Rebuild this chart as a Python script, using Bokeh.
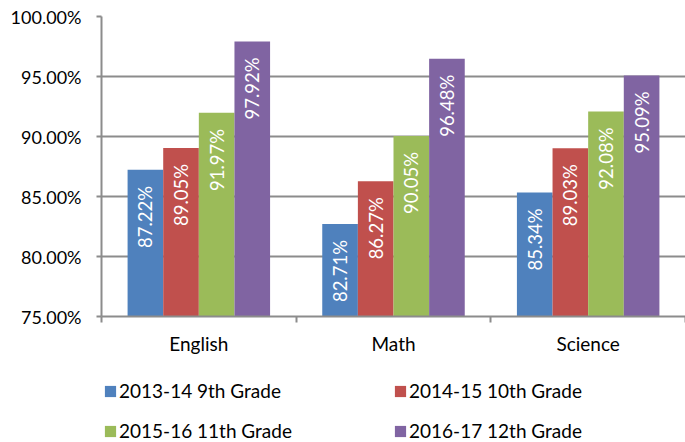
import math
from bokeh.plotting import figure
from bokeh.layouts import column
from bokeh.models import (Range1d, FixedTicker, SingleIntervalTicker, PrintfTickFormatter,
                          Legend, LegendItem, ColumnDataSource)
from bokeh.core.properties import value
from bokeh.embed import file_html
from bokeh.resources import INLINE

subjects = ["English", "Math", "Science"]
series_names = ["2013-14 9th Grade", "2014-15 10th Grade", "2015-16 11th Grade", "2016-17 12th Grade"]
grade9 = [87.22, 82.71, 85.34]
grade10 = [89.05, 86.27, 89.03]
grade11 = [91.97, 90.05, 92.08]
grade12 = [97.92, 96.48, 95.09]
series_values = [grade9, grade10, grade11, grade12]
colors = ["#4F81BD", "#C0504D", "#9BBB59", "#8064A2"]

FONT = "Lato"
GRID = "#8C8C8C"

p = figure(width=685, height=360, output_backend="svg", toolbar_location=None,
           x_range=Range1d(0, len(subjects)), y_range=Range1d(75, 100),
           min_border_left=101, min_border_right=0, min_border_top=16, min_border_bottom=44)
p.outline_line_color = None
p.background_fill_color = "white"
p.border_fill_color = "white"

# Y axis
p.yaxis.ticker = SingleIntervalTicker(interval=5)
p.yaxis.formatter = PrintfTickFormatter(format="%.2f%%")
p.yaxis.axis_line_color = GRID
p.yaxis.axis_line_width = 2
p.yaxis.major_tick_line_color = GRID
p.yaxis.major_tick_line_width = 2
p.yaxis.major_tick_out = 5
p.yaxis.major_tick_in = 0
p.yaxis.minor_tick_line_color = None
p.yaxis.major_label_standoff = 15
p.yaxis.major_label_text_font = FONT
p.yaxis.major_label_text_font_size = "18px"
p.yaxis.major_label_text_color = "#000000"

# X axis
centers = [i + 0.5 for i in range(len(subjects))]
bounds = [float(i) for i in range(len(subjects) + 1)]
p.xaxis.ticker = FixedTicker(ticks=centers, minor_ticks=bounds)
p.xaxis.major_label_overrides = {c: s for c, s in zip(centers, subjects)}
p.xaxis.axis_line_color = GRID
p.xaxis.axis_line_width = 2
p.xaxis.major_tick_line_color = None
p.xaxis.major_tick_out = 0
p.xaxis.major_tick_in = 0
p.xaxis.minor_tick_line_color = GRID
p.xaxis.minor_tick_line_width = 2
p.xaxis.minor_tick_out = 6
p.xaxis.minor_tick_in = 0
p.xaxis.major_label_standoff = 9
p.xaxis.major_label_text_font = FONT
p.xaxis.major_label_text_font_size = "19px"
p.xaxis.major_label_text_color = "#000000"

p.xgrid.grid_line_color = None
p.ygrid.grid_line_color = GRID
p.ygrid.grid_line_width = 2

bar_w = 0.183
for j, (name, vals, col) in enumerate(zip(series_names, series_values, colors)):
    off = (j - 1.5) * bar_w
    src = ColumnDataSource(dict(
        x=[c + off for c in centers],
        top=vals,
        label=[f"{v:.2f}%" for v in vals],
    ))
    p.vbar(x="x", top="top", bottom=75, width=bar_w, source=src,
           fill_color=col, line_color=None)
    p.text(x="x", y="top", text="label", source=src, angle=math.pi / 2,
           text_align="right", text_baseline="middle", y_offset=16,
           text_color="white", text_font=value(FONT), text_font_size="18.5px")

# Legend strip below the chart
lg = figure(width=685, height=82, output_backend="svg", toolbar_location=None,
            x_range=Range1d(0, 1), y_range=Range1d(0, 1),
            min_border_left=0, min_border_right=0, min_border_top=0, min_border_bottom=0)
lg.axis.visible = False
lg.grid.visible = False
lg.outline_line_color = None
lg.background_fill_color = "white"
lg.border_fill_color = "white"

items = []
for name, col in zip(series_names, colors):
    # zero-size stand-in bar: only supplies the legend swatch colour
    r = lg.vbar(x=[0], top=[0], bottom=0, width=0, fill_color=col, line_color=None)
    items.append(LegendItem(label=name, renderers=[r]))

legend = Legend(items=items, orientation="horizontal", ncols=2,
                location=(2, 0), padding=0, margin=0, spacing=17,
                glyph_width=14, glyph_height=14, label_standoff=2,
                label_width=257, label_height=20,
                label_text_font=FONT, label_text_font_size="19px",
                label_text_color="#000000",
                border_line_color=None, background_fill_alpha=0)
lg.add_layout(legend)

layout = column(p, lg, spacing=0)
open("out.html", "w").write(file_html(layout, INLINE))
